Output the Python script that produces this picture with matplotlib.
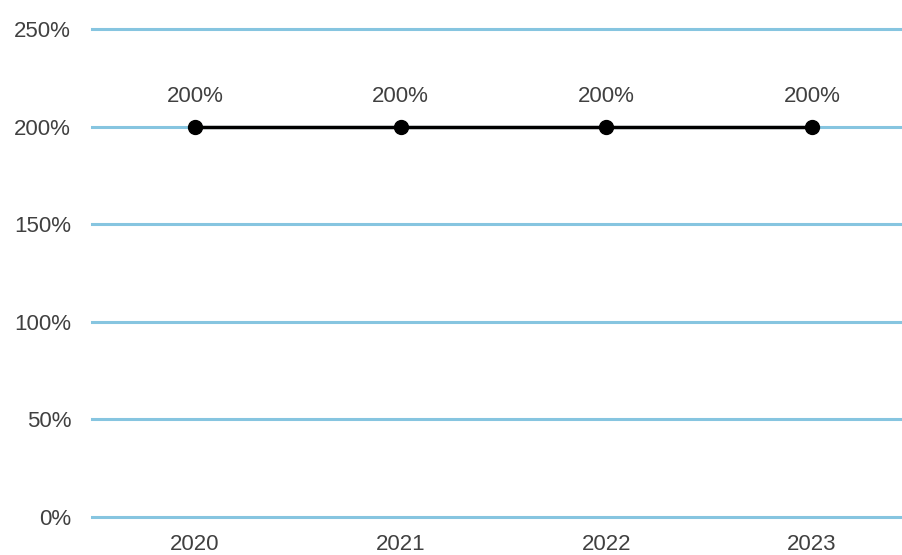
import matplotlib
matplotlib.use("Agg")
import matplotlib.pyplot as plt
from matplotlib.ticker import FuncFormatter

years = ["2020", "2021", "2022", "2023"]
values = [200, 200, 200, 200]
y_ticks = [0, 50, 100, 150, 200, 250]

plt.rcParams["font.family"] = ["Liberation Sans", "DejaVu Sans"]

fig = plt.figure(figsize=(9.02, 5.55), dpi=100)
W, H = 902, 555
left, right = 92, 915
top, bottom = 29, 517
ax = fig.add_axes([left / W, 1 - bottom / H, (right - left) / W, (bottom - top) / H])

x = list(range(len(years)))
ax.plot(x, values, color="black", linewidth=2.5, marker="o", markersize=10, zorder=3, clip_on=False)
for xi, v in zip(x, values):
    ax.annotate(f"{v}%", (xi, v), xytext=(0, 21.5), textcoords="offset points",
                ha="center", va="center", fontsize=16, color="#404040")

ax.set_xlim(-0.5, len(years) - 0.5)
ax.set_ylim(0, 250)
ax.set_yticks(y_ticks)
ax.yaxis.set_major_formatter(FuncFormatter(lambda v, p: f"{int(v)}%"))
ax.set_xticks(x)
ax.set_xticklabels(years)
ax.grid(axis="y", color="#86c5e0", linewidth=2.2)
for gl in ax.get_ygridlines():
    gl.set_clip_on(False)
ax.set_axisbelow(True)
for s in ax.spines.values():
    s.set_visible(False)
ax.tick_params(axis="both", length=0, labelsize=16, labelcolor="#404040")
ax.tick_params(axis="y", pad=15)
ax.tick_params(axis="x", pad=12)

fig.savefig("out.png", dpi=100)
